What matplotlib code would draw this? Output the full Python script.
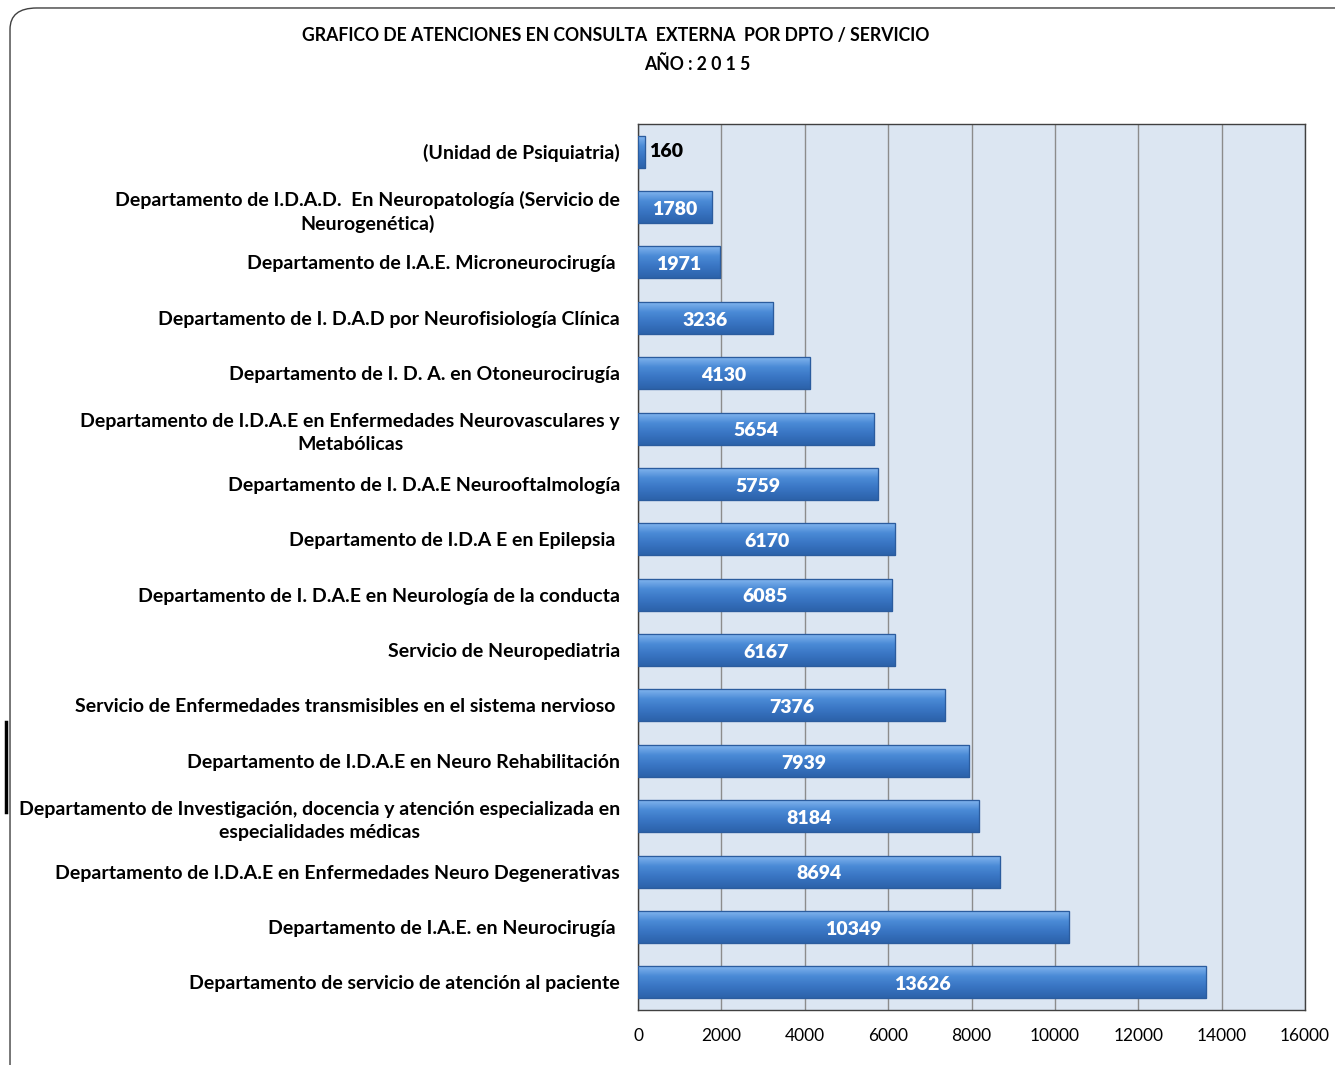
import numpy as np
import matplotlib.pyplot as plt
from matplotlib.patches import FancyBboxPatch
from matplotlib.colors import LinearSegmentedColormap

plt.rcParams['font.family'] = ['Lato', 'DejaVu Sans']

servicios = [
    "(Unidad de Psiquiatria)",
    "Departamento de I.D.A.D.  En Neuropatología (Servicio de\nNeurogenética)",
    "Departamento de I.A.E. Microneurocirugía ",
    "Departamento de I. D.A.D por Neurofisiología Clínica",
    "Departamento de I. D. A. en Otoneurocirugía",
    "Departamento de I.D.A.E en Enfermedades Neurovasculares y\nMetabólicas",
    "Departamento de I. D.A.E Neurooftalmología",
    "Departamento de I.D.A E en Epilepsia ",
    "Departamento de I. D.A.E en Neurología de la conducta",
    "Servicio de Neuropediatria",
    "Servicio de Enfermedades transmisibles en el sistema nervioso ",
    "Departamento de I.D.A.E en Neuro Rehabilitación",
    "Departamento de Investigación, docencia y atención especializada en\nespecialidades médicas",
    "Departamento de I.D.A.E en Enfermedades Neuro Degenerativas",
    "Departamento de I.A.E. en Neurocirugía ",
    "Departamento de servicio de atención al paciente",
]
atenciones = [160, 1780, 1971, 3236, 4130, 5654, 5759, 6170, 6085, 6167,
              7376, 7939, 8184, 8694, 10349, 13626]
ticks = [0, 2000, 4000, 6000, 8000, 10000, 12000, 14000, 16000]

fig = plt.figure(figsize=(13.35, 10.65), dpi=100)

# rounded outer frame (cut off at right / bottom like the source)
frame = FancyBboxPatch((0.0075, -0.05), 1.2, 1.0425, boxstyle="round,pad=0,rounding_size=0.02",
                       transform=fig.transFigure, fill=False, ec='#404040', lw=1.0)
fig.add_artist(frame)
fig.add_artist(plt.Line2D([0.0045, 0.0045], [1 - 722/1065, 1 - 812/1065],
                          transform=fig.transFigure, color='black', lw=2.5))

ax = fig.add_axes([638/1335, 1 - 1010/1065, (1305-638)/1335, (1010-124)/1065])
ax.set_facecolor('#DCE6F2')

y = np.arange(len(servicios))
h = 0.58
bars = ax.barh(y, atenciones, height=h, color='#3D7CC9', edgecolor='#2B5C9E', lw=0.8, zorder=3)

# simple gradient shading on each bar
grad = np.linspace(0, 1, 64).reshape(-1, 1)
cmap = LinearSegmentedColormap.from_list('bar', ['#86B8F0', '#4A8AD6', '#3874C2', '#2C62AA'])
for b in bars:
    x0, y0 = b.get_x(), b.get_y()
    im = ax.imshow(grad, extent=[x0, x0 + b.get_width(), y0 + b.get_height(), y0],
                   aspect='auto', cmap=cmap, zorder=3.5, interpolation='bicubic')
    im.set_clip_path(b)
    ax.add_patch(plt.Rectangle((x0, y0), b.get_width(), b.get_height(), fill=False,
                               ec='#2B5C9E', lw=0.9, zorder=4))

for yi, v in zip(y, atenciones):
    if v < 1000:
        ax.text(v + 100, yi, str(v), ha='left', va='center', fontsize=14,
                fontweight='heavy', color='black', zorder=5)
    else:
        ax.text(v / 2, yi + 0.04, str(v), ha='center', va='center', fontsize=14,
                fontweight='heavy', color='white', zorder=5)

ax.set_xlim(0, 16000)
ax.set_ylim(len(servicios) - 0.5, -0.5)
ax.set_xticks(ticks)
ax.set_xticklabels([str(t) for t in ticks], fontsize=12.5)
ax.set_yticks(y)
ax.set_yticklabels(servicios, fontsize=14, fontweight='bold', multialignment='center',
                   linespacing=1.45)
ax.tick_params(axis='y', length=0, pad=13)
ax.tick_params(axis='x', length=0, pad=13)
ax.grid(axis='x', color='#8C8C8C', lw=1.0, zorder=1)
for s in ax.spines.values():
    s.set_color('#404040')
    s.set_linewidth(1.0)

fig.text(616/1335, 1 - 35/1065, "GRAFICO DE ATENCIONES EN CONSULTA  EXTERNA  POR DPTO / SERVICIO",
         ha='center', va='center', fontsize=12.7, fontweight='bold')
fig.text(697/1335, 1 - 64/1065, "AÑO : 2 0 1 5", ha='center', va='center',
         fontsize=12.7, fontweight='bold')

fig.savefig('out.png', dpi=100)
